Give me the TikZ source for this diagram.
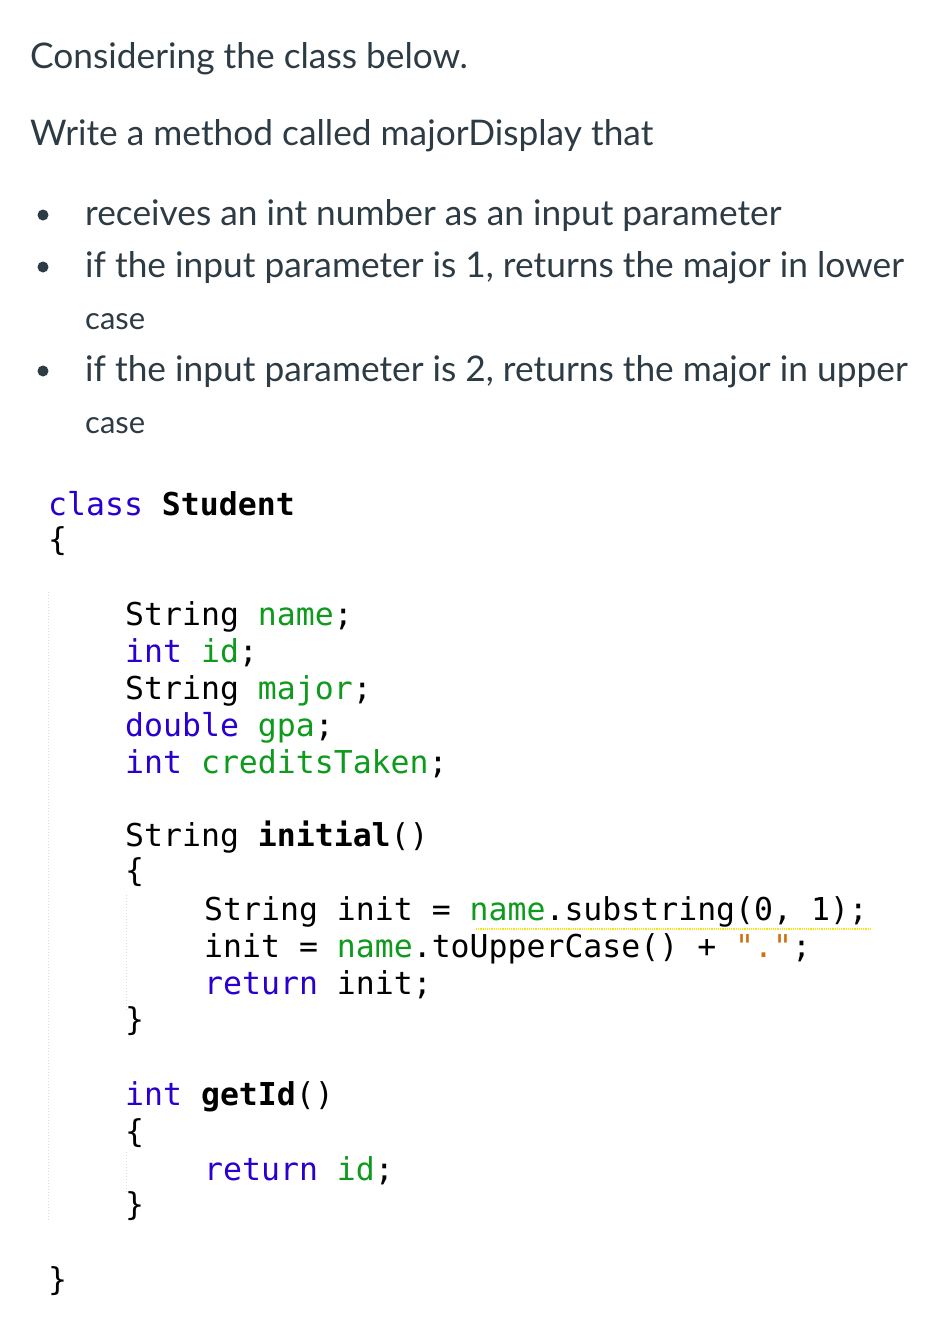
\documentclass[tikz,border=0pt]{standalone}
\usepackage{fontspec}
\setmainfont{Lato}
\newfontfamily\codefont{DejaVu Sans Mono}
\definecolor{kw}{HTML}{2A00D0}
\definecolor{fld}{HTML}{0F9A1E}
\definecolor{strc}{HTML}{D07010}
\definecolor{txt}{HTML}{2D3B45}
\newcommand{\K}[1]{\textcolor{kw}{#1}}
\newcommand{\F}[1]{\textcolor{fld}{#1}}
\begin{document}
\begin{tikzpicture}[x=1pt,y=-1pt,
  body/.style={anchor=base west,inner sep=0pt,font=\fontsize{35.3}{40}\selectfont,text=txt},
  small/.style={anchor=base west,inner sep=0pt,font=\fontsize{31}{36}\selectfont,text=txt},
  code/.style={anchor=base west,inner sep=0pt,font=\codefont\fontsize{31.5}{36}\selectfont},
  guide/.style={draw=black!15,dotted,line width=1pt}]
\useasboundingbox (0,0) rectangle (944,1330);
\node[body] (t1) at (30,68) {Considering the class below.};
\node[body] (t2) at (30,145) {Write a method called majorDisplay that};
\foreach \y in {225,277,381}{\fill[txt] (43,\y-10) circle (5.5);}
\node[body] (l1) at (85,225) {receives an int number as an input parameter};
\node[body] (l2) at (85,277) {if the input parameter is 1, returns the major in lower};
\node[small] (l2b) at (85,329) {case};
\node[body] (l3) at (85,381) {if the input parameter is 2, returns the major in upper};
\node[small] (l3b) at (85,433) {case};
\draw[guide] (48,592) -- (48,1222);
\draw[guide] (126,895) -- (126,1010);
\draw[guide] (126,1152) -- (126,1192);
\node[code] (c1) at (48,515) {\K{class} \textbf{Student}};
\node[code] (c2) at (48,550) {\{};
\node[code] (c3) at (125,625) {String \F{name};};
\node[code] (c4) at (125,662) {\K{int} \F{id};};
\node[code] (c5) at (125,699) {String \F{major};};
\node[code] (c6) at (125,736) {\K{double} \F{gpa};};
\node[code] (c7) at (125,773) {\K{int} \F{creditsTaken};};
\node[code] (c8) at (125,846) {String \textbf{initial}()};
\node[code] (c9) at (125,881) {\{};
\node[code] (c10) at (204,920) {String init = \F{name}.substring(0, 1);};
\draw[yellow!85!orange,line width=1.2pt,densely dotted] (476,929) -- (870,929);
\node[code] (c11) at (204,957) {init = \F{name}.toUpperCase() + \textcolor{strc}{"."};};
\node[code] (c12) at (204,994) {\K{return} init;};
\node[code] (c13) at (125,1030) {\}};
\node[code] (c14) at (125,1105) {\K{int} \textbf{getId}()};
\node[code] (c15) at (125,1142) {\{};
\node[code] (c16) at (204,1180) {\K{return} \F{id};};
\node[code] (c17) at (125,1215) {\}};
\node[code] (c18) at (48,1290) {\}};
\end{tikzpicture}
\end{document}
